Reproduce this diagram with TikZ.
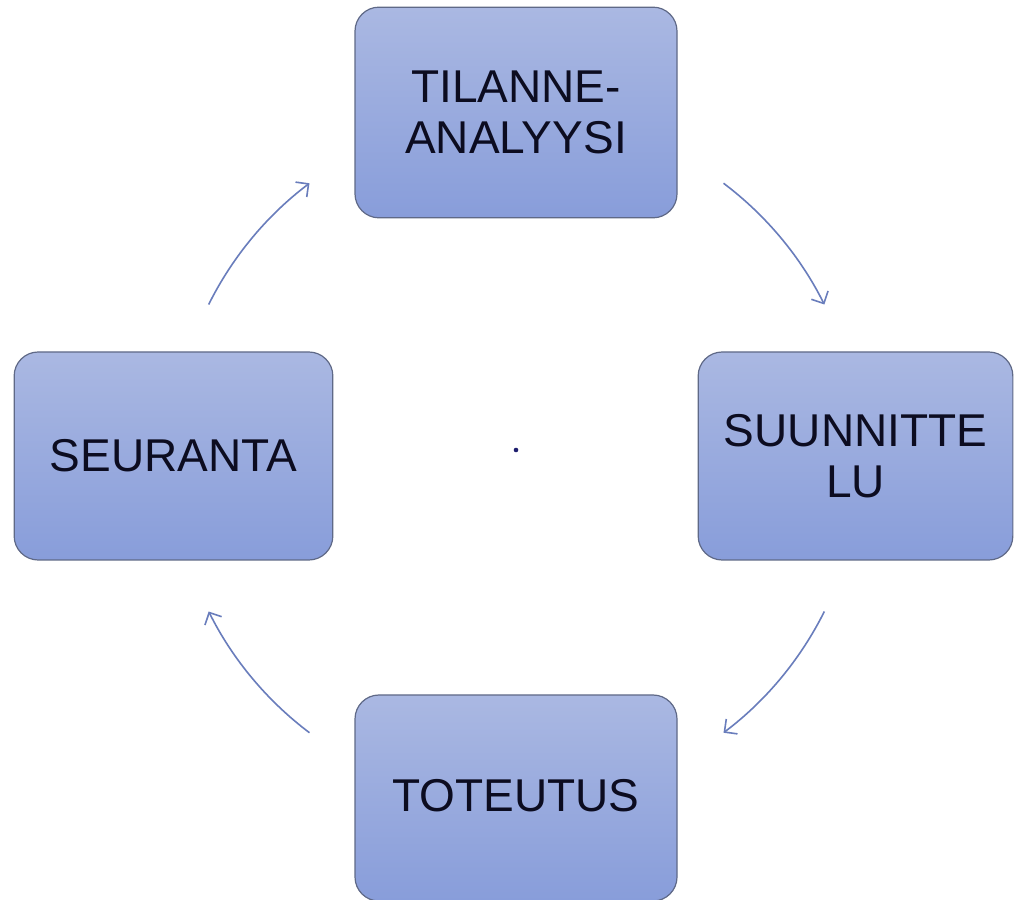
\documentclass[tikz,border=0pt]{standalone}
\usepackage{fontspec}
\setmainfont{Liberation Sans}
\usetikzlibrary{arrows.meta}
\definecolor{boxtop}{RGB}{170,184,226}
\definecolor{boxbot}{RGB}{136,157,218}
\definecolor{boxline}{RGB}{95,105,135}
\definecolor{arrcol}{RGB}{105,125,188}
\definecolor{txtcol}{RGB}{12,12,32}
\definecolor{dotcol}{RGB}{30,30,110}
\tikzset{
  stagebox/.style={draw=boxline, line width=0.9pt, rounded corners=18pt,
    top color=boxtop, bottom color=boxbot, shading angle=0,
    align=center, text=txtcol, inner sep=0pt,
    font=\fontsize{34.5}{38.25}\selectfont},
  cyclearrow/.style={draw=arrcol, line width=1.2pt,
    -{Straight Barb[length=7pt,width=14pt,line width=1.2pt]}}
}
\begin{document}
\begin{tikzpicture}[x=0.75pt,y=0.75pt]
\useasboundingbox (0,0) rectangle (1016,899);
\clip (0,0) rectangle (1016,899);
\fill[white] (0,0) rectangle (1016,899);
\node[stagebox, minimum width=241.5pt, minimum height=158pt] (tilanne) at (516,786.5) {TILANNE-\\ANALYYSI};
\node[stagebox, minimum width=236pt, minimum height=156pt] (suunn) at (855.5,443) {SUUNNITTE\\LU};
\node[stagebox, minimum width=239pt, minimum height=156pt] (seur) at (173.5,443) {SEURANTA};
\node[stagebox, minimum width=241.5pt, minimum height=154.5pt] (tot) at (516,101) {\raisebox{3.5pt}{TOTEUTUS}};
\coordinate (dot) at (516,449);
\fill[dotcol] (dot) circle[radius=2.3];
\coordinate (ctr) at (516.5,441);
\draw[cyclearrow] ([shift={(53:344)}]ctr) arc[start angle=53, end angle=26.5, radius=344];
\draw[cyclearrow] ([shift={(-26.5:344)}]ctr) arc[start angle=-26.5, end angle=-53, radius=344];
\draw[cyclearrow] ([shift={(-127:344)}]ctr) arc[start angle=-127, end angle=-153.5, radius=344];
\draw[cyclearrow] ([shift={(153.5:344)}]ctr) arc[start angle=153.5, end angle=127, radius=344];
\end{tikzpicture}
\end{document}
